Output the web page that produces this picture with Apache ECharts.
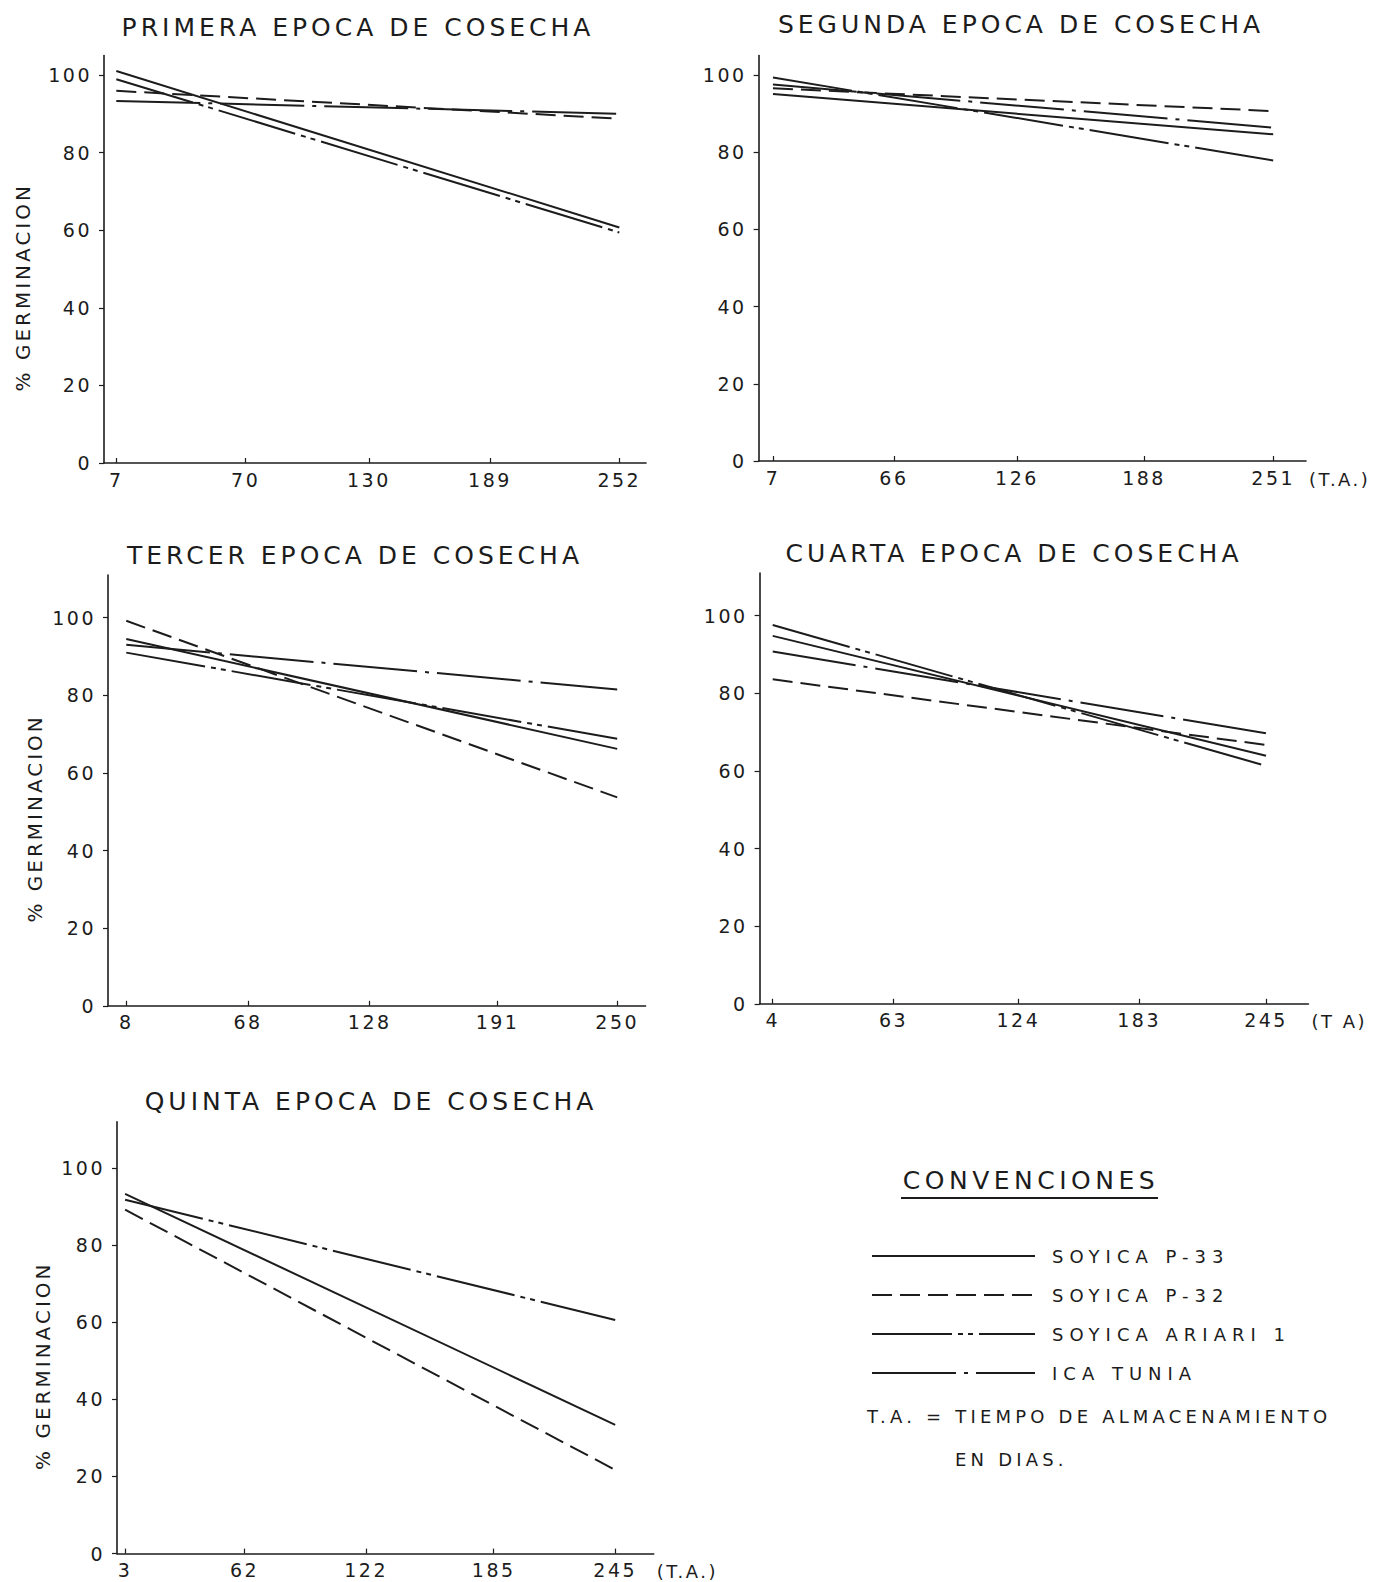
<!DOCTYPE html>
<html>
<head>
<meta charset="utf-8">
<script src="https://cdn.jsdelivr.net/npm/echarts@6/dist/echarts.min.js"></script>
<style>
  html, body { margin: 0; padding: 0; background: #ffffff; }
  #chart { width: 1376px; height: 1582px; }
</style>
</head>
<body>
<div id="chart"></div>
<script>
// ---------------- DATA ----------------
const panelTitles = [
  'PRIMERA EPOCA DE COSECHA',
  'SEGUNDA EPOCA DE COSECHA',
  'TERCER EPOCA DE COSECHA',
  'CUARTA EPOCA DE COSECHA',
  'QUINTA EPOCA DE COSECHA'
];
// storage time (days) tick labels per panel; lines run from first to last
const daysI   = [7, 70, 130, 189, 252];
const daysII  = [7, 66, 126, 188, 251];
const daysIII = [8, 68, 128, 191, 250];
const daysIV  = [4, 63, 124, 183, 245];
const daysV   = [3, 62, 122, 185, 245];
const yTicks  = [0, 20, 40, 60, 80, 100];
const seriesNames = ['SOYICA P-33', 'SOYICA P-32', 'SOYICA ARIARI 1', 'ICA TUNIA'];
// % germination at start and end of storage, per panel (null = not drawn)
const soyicaP33    = [[101.0, 60.7], [95.0, 84.6], [94.5, 66.2], [94.8, 63.9], [93.3, 33.4]];
const soyicaP32    = [[95.9, 88.7], [96.5, 90.6], [99.2, 53.7], [83.6, 66.7], [89.2, 21.7]];
const soyicaAriari = [[98.9, 59.4], [99.3, 77.8], [91.0, 68.8], [97.6, 61.3], [91.8, 60.6]];
const icaTunia     = [[93.3, 90.0], [97.5, 86.3], [93.0, 81.5], [90.8, 69.7], null];
const yAxisName = '% GERMINACION';
const xAxisNames = ['', '(T.A.)', '', '(T A)', '(T.A.)'];
const legendTitle = 'CONVENCIONES';
const noteLines = ['T.A. = TIEMPO DE ALMACENAMIENTO', 'EN DIAS.'];

// ---------------- LAYOUT / STYLE ----------------
const INK = '#1c1c1c';
const FONT = 'DejaVu Sans';
const panelDays = [daysI, daysII, daysIII, daysIV, daysV];
const grids = [
  { left: 104,   top: 55.5,  width: 542,   height: 407.5, xmin: 1,    xmax: 265,   ymax: 105, nameGap: 71 },
  { left: 758.6, top: 55.5,  width: 547.4, height: 405.5, xmin: 0,    xmax: 267,   ymax: 105, nameGap: 0 },
  { left: 108,   top: 575,   width: 537.6, height: 430.8, xmin: -1,   xmax: 264,   ymax: 111, nameGap: 63 },
  { left: 759.6, top: 573,   width: 548.8, height: 430.8, xmin: -2.4, xmax: 265.7, ymax: 111, nameGap: 0 },
  { left: 117,   top: 1121.8,width: 536.7, height: 431.8, xmin: -1,   xmax: 264,   ymax: 112, nameGap: 64 }
];
const titlePos = [[358, 27], [1021, 24], [355, 555], [1014, 553], [371, 1101]];
const showYName = [true, false, true, false, true];
const dashStyles = {
  'SOYICA P-33': 'solid',
  'SOYICA P-32': [20, 8],
  'SOYICA ARIARI 1': [80, 6, 5, 5, 5, 6],
  'ICA TUNIA': [84, 8, 4, 8]
};
const seriesValues = {
  'SOYICA P-33': soyicaP33,
  'SOYICA P-32': soyicaP32,
  'SOYICA ARIARI 1': soyicaAriari,
  'ICA TUNIA': icaTunia
};

const gridOpt = [], xAxisOpt = [], yAxisOpt = [], seriesOpt = [], graphicOpt = [];

grids.forEach((g, i) => {
  const days = panelDays[i];
  gridOpt.push({ left: g.left, top: g.top, width: g.width, height: g.height, containLabel: false });
  xAxisOpt.push({
    gridIndex: i, type: 'value', min: g.xmin, max: g.xmax,
    name: xAxisNames[i], nameLocation: 'end', nameGap: 3,
    nameTextStyle: { color: INK, fontFamily: FONT, fontSize: 18, align: 'left', verticalAlign: 'top', padding: [9, 0, 0, 0] },
    axisLine: { show: true, onZero: false, lineStyle: { color: INK, width: 1.6 } },
    axisTick: { show: true, inside: true, length: 5, customValues: days, lineStyle: { color: INK, width: 1.2 } },
    axisLabel: { customValues: days, margin: 7, color: INK, fontFamily: FONT, fontSize: 19 },
    splitLine: { show: false }
  });
  yAxisOpt.push({
    gridIndex: i, type: 'value', min: 0, max: g.ymax,
    name: showYName[i] ? yAxisName : '', nameLocation: 'middle', nameGap: g.nameGap,
    nameTextStyle: { color: INK, fontFamily: FONT, fontSize: 20, padding: [0, 56, 0, 0] },
    axisLine: { show: true, onZero: false, lineStyle: { color: INK, width: 1.6 } },
    axisTick: { show: true, inside: false, length: 5, customValues: yTicks, lineStyle: { color: INK, width: 1.2 } },
    axisLabel: { customValues: yTicks, margin: 12, color: INK, fontFamily: FONT, fontSize: 19 },
    splitLine: { show: false }
  });
  seriesNames.forEach(name => {
    const v = seriesValues[name][i];
    if (!v) return;
    seriesOpt.push({
      name: name, type: 'line', xAxisIndex: i, yAxisIndex: i,
      data: [[days[0], v[0]], [days[days.length - 1], v[1]]],
      symbol: 'none', showSymbol: false, silent: true,
      itemStyle: { color: INK },
      lineStyle: { color: INK, width: 2, type: dashStyles[name] }
    });
  });
  graphicOpt.push({
    type: 'text', x: titlePos[i][0], y: titlePos[i][1], silent: true,
    style: { text: panelTitles[i], fill: INK, fontFamily: FONT, fontSize: 25, align: 'center', verticalAlign: 'middle' }
  });
});

graphicOpt.push({
  type: 'text', x: 1031, y: 1180, silent: true,
  style: { text: legendTitle, fill: INK, fontFamily: FONT, fontSize: 25, align: 'center', verticalAlign: 'middle' }
});
graphicOpt.push({
  type: 'line', silent: true,
  shape: { x1: 901, y1: 1198, x2: 1158, y2: 1198 },
  style: { stroke: INK, lineWidth: 2.2 }
});
graphicOpt.push({
  type: 'text', x: 867, y: 1416, silent: true,
  style: { text: noteLines[0], fill: INK, fontFamily: FONT, fontSize: 18, align: 'left', verticalAlign: 'middle' }
});
graphicOpt.push({
  type: 'text', x: 955, y: 1459, silent: true,
  style: { text: noteLines[1], fill: INK, fontFamily: FONT, fontSize: 18, align: 'left', verticalAlign: 'middle' }
});

const option = {
  backgroundColor: '#ffffff',
  animation: false,
  grid: gridOpt,
  xAxis: xAxisOpt,
  yAxis: yAxisOpt,
  legend: {
    data: seriesNames, orient: 'vertical', left: 866, top: 1242,
    itemWidth: 163, itemHeight: 20, itemGap: 21, selectedMode: false,
    itemStyle: { opacity: 0, borderWidth: 0 },
    lineStyle: { color: INK, width: 2 },
    textStyle: { color: INK, fontFamily: FONT, fontSize: 18, padding: [0, 0, 0, 12] }
  },
  graphic: graphicOpt,
  series: seriesOpt
};

const chart = echarts.init(document.getElementById('chart'), null, { renderer: 'svg', width: 1376, height: 1582 });
chart.setOption(option);

// letter spacing of the hand-lettered original
const spacing = {};
panelTitles.forEach(t => spacing[t] = 4);
seriesNames.forEach(t => spacing[t] = 6);
spacing[legendTitle] = 4.5;
spacing[noteLines[0]] = 4.2;
spacing[noteLines[1]] = 4.2;
spacing[yAxisName] = 3;
function applySpacing() {
  document.querySelectorAll('#chart svg text').forEach(t => {
    const s = t.textContent;
    const ls = spacing[s] !== undefined ? spacing[s] : 2.5;
    t.style.letterSpacing = ls + 'px';
  });
}
applySpacing();
chart.on('finished', applySpacing);
setTimeout(applySpacing, 30);
</script>
</body>
</html>
